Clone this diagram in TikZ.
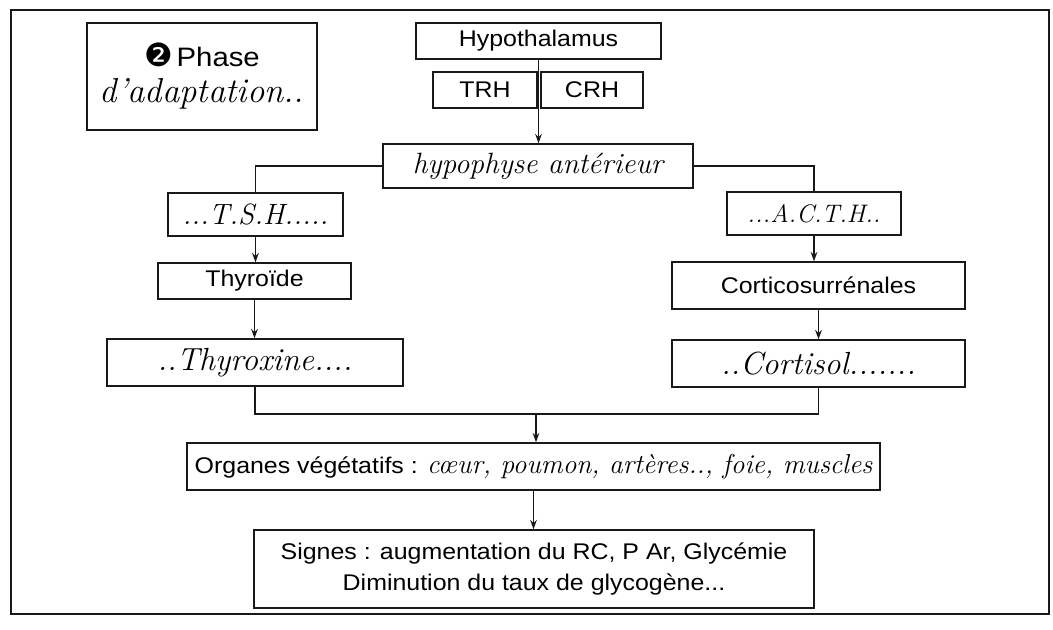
\documentclass[tikz,border=0pt]{standalone}
\usepackage{fontspec}
\newfontfamily\sansf[FakeStretch=1.1]{Liberation Sans}
\newfontfamily\dingf{DejaVu Sans}
\usetikzlibrary{arrows.meta}
\begin{document}
\begin{tikzpicture}[x=0.75pt,y=-0.75pt,
  box/.style={draw=black!90,line width=1.1pt,inner sep=0pt,align=center,font=\sansf\fontsize{17}{20}\selectfont},
  hand/.style={font=\itshape\fontsize{22}{24}\selectfont},
  link/.style={draw=black!90,line width=1.2pt},
  arr/.style={link,-{Stealth[length=7pt,width=5pt]}}]
\useasboundingbox (0,0) rectangle (1053,629);
\node[draw=black!90,line width=1.2pt,minimum width=778.5pt,minimum height=453pt,inner sep=0pt] (frame) at (530,312) {};
\node[box,minimum width=172.5pt,minimum height=80.25pt] (phase) at (202,76.5)
  {{\dingf\fontsize{24}{24}\selectfont ❷}\,{\fontsize{20}{22}\selectfont Phase}\\[7pt]{\normalfont\itshape\fontsize{26}{28}\selectfont d'adaptation..}};
\node[box,minimum width=183.75pt,minimum height=27pt] (hyp) at (538.5,41) {Hypothalamus};
\node[box,minimum width=78pt,minimum height=27pt] (trh) at (485,90) {TRH};
\node[box,minimum width=76.5pt,minimum height=27pt] (crh) at (592,90) {CRH};
\node[box,hand,minimum width=232.5pt,minimum height=33pt] (hypo) at (538,166) {hypophyse antérieur};
\node[box,hand,minimum width=131.25pt,minimum height=32.25pt] (tsh) at (255.5,214.5) {...T.S.H.....};
\node[box,hand,font=\itshape\fontsize{19}{22}\selectfont,minimum width=130.5pt,minimum height=32.25pt] (acth) at (814,213.5) {...A.C.T.H..};
\node[box,minimum width=144.75pt,minimum height=27pt] (thy) at (254.5,281) {Thyroïde};
\node[box,minimum width=219.75pt,minimum height=35.25pt] (cort) at (818.5,285.5) {Corticosurrénales};
\node[box,hand,font=\itshape\fontsize{24}{26}\selectfont,minimum width=222pt,minimum height=35.25pt] (thyx) at (255,362.5) {..Thyroxine....};
\node[box,hand,font=\itshape\fontsize{24}{26}\selectfont,minimum width=219.75pt,minimum height=35.25pt] (cortisol) at (818.5,363.5) {..Cortisol.......};
\node[box,minimum width=519.75pt,minimum height=35.25pt] (org) at (533.5,466.5)
  {Organes végétatifs : {\normalfont\itshape\fontsize{20.5}{24}\selectfont cœur, poumon, artères.., foie, muscles}};
\node[box,minimum width=420pt,minimum height=58.5pt] (sig) at (534,569)
  {Signes : augmentation du RC, P Ar, Glycémie\\[3pt]Diminution du taux de glycogène...};
\coordinate (mid) at (536,414);
\draw[arr] (hyp.south) -- (hyp.south |- hypo.north);
\draw[link] (hypo.west) -| (tsh.north);
\draw[link] (hypo.east) -| (acth.north);
\draw[arr] (tsh.south) -- (tsh.south |- thy.north);
\draw[arr] (thy.south) -- (thy.south |- thyx.north);
\draw[arr] (acth.south) -- (acth.south |- cort.north);
\draw[arr] (cort.south) -- (cort.south |- cortisol.north);
\draw[link] (thyx.south) |- (mid) -| (cortisol.south);
\draw[arr] (mid) -- (mid |- org.north);
\draw[arr] (org.south) -- (org.south |- sig.north);
\end{tikzpicture}
\end{document}
